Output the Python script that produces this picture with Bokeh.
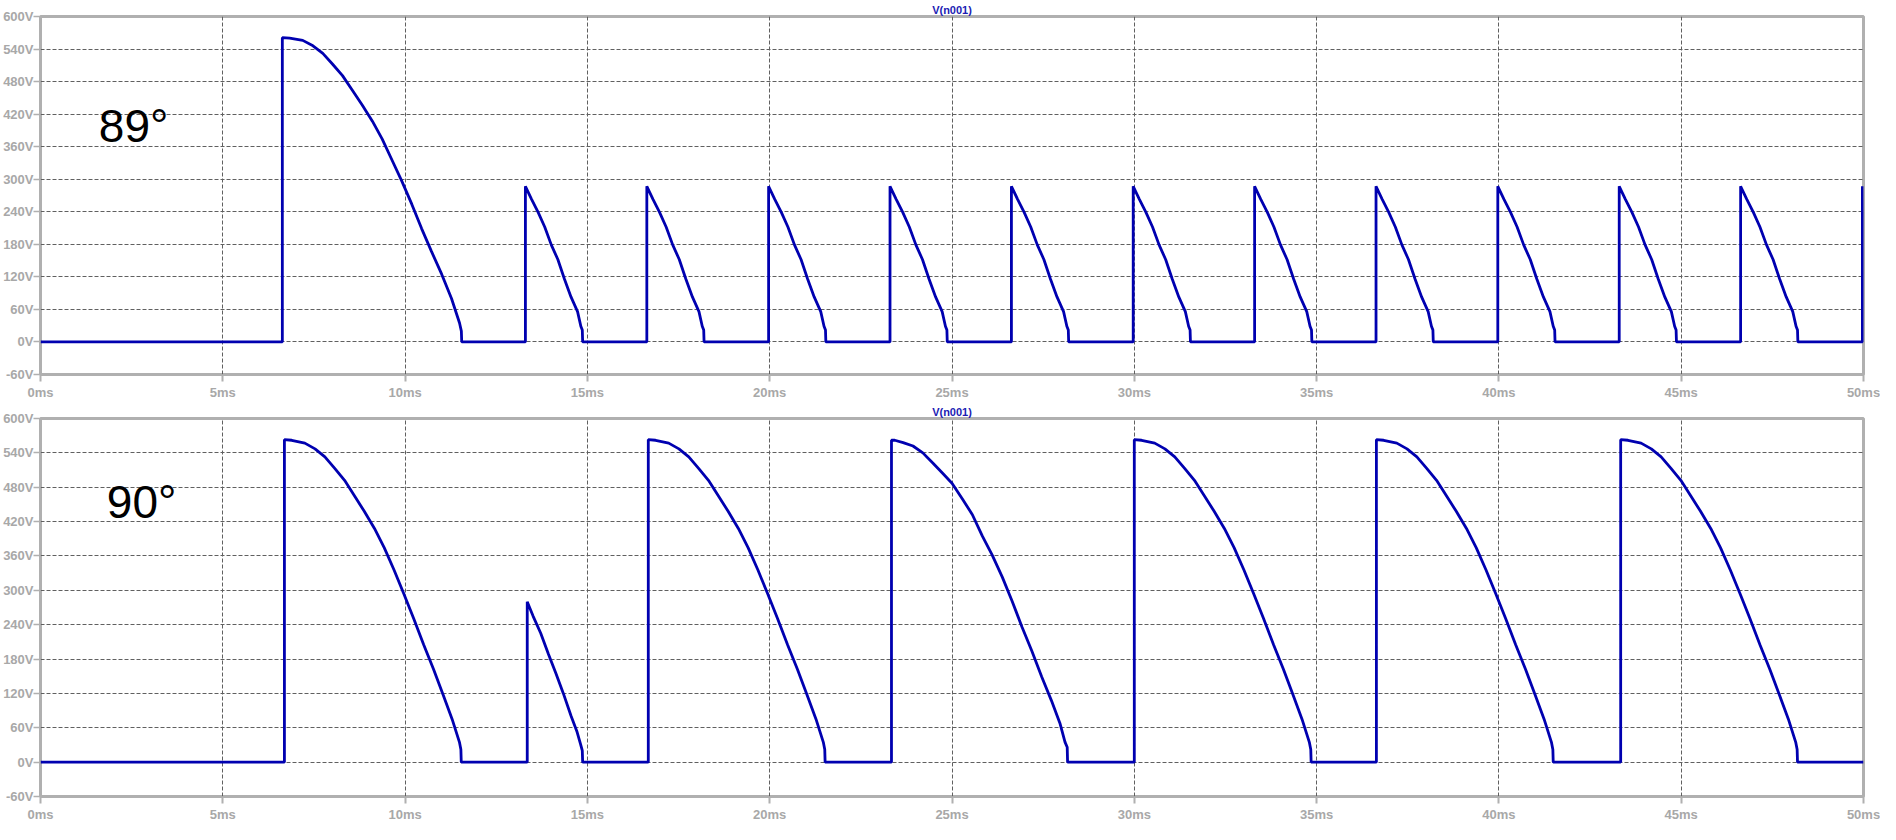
from bokeh.plotting import figure
from bokeh.models import Range1d, FixedTicker, PrintfTickFormatter, Label
from bokeh.layouts import column
from bokeh.embed import file_html
from bokeh.resources import INLINE

# ---------------- data ----------------
x_ticks = [0, 5, 10, 15, 20, 25, 30, 35, 40, 45, 50]          # ms
y_ticks = [-60, 0, 60, 120, 180, 240, 300, 360, 420, 480, 540, 600]  # V
t_end = 50.0

# top chart (89°): one big pulse, then small pulses
top_big_start = [6.633]
top_big_dt = [0, 0.2, 0.56, 0.84, 1.11, 1.38, 1.65, 1.92, 2.19, 2.47, 2.74,
              3.01, 3.28, 3.55, 3.82, 4.09, 4.37, 4.64, 4.86, 4.91]
top_big_v = [561, 560, 556, 546, 532, 512, 491, 464, 437, 407, 374,
             335, 296, 254, 209, 167, 125, 80, 35, 20]
top_small_start = [13.30, 16.63, 19.97, 23.30, 26.63, 29.97, 33.30,
                   36.63, 39.97, 43.30, 46.63, 49.97]
top_small_dt = [0, 0.17, 0.35, 0.53, 0.71, 0.89, 1.07, 1.25, 1.43, 1.52, 1.56]
top_small_v = [287, 263, 239, 212, 179, 152, 116, 83, 56, 29, 22]

# bottom chart (90°)
bot_big_start = [6.69, 16.67, 30.00, 36.64, 43.34]
bot_big_dt = [0, 0.2, 0.56, 0.84, 1.11, 1.38, 1.65, 1.92, 2.19, 2.47, 2.74,
              3.01, 3.28, 3.55, 3.82, 4.09, 4.35, 4.60, 4.80, 4.84]
bot_big_v = [563, 562, 557, 547, 533, 513, 492, 465, 438, 408, 374,
             335, 293, 250, 205, 162, 118, 75, 35, 22]
bot_kink_start = [23.34]
bot_kink_dt = [0, 0.09, 0.32, 0.59, 0.86, 1.14, 1.41, 1.66, 1.95, 2.22, 2.49,
               2.76, 3.04, 3.31, 3.58, 3.85, 4.12, 4.39, 4.62, 4.76, 4.82]
bot_kink_v = [562, 562, 558, 552, 540, 522, 504, 487, 459, 432, 395,
              362, 323, 281, 236, 194, 149, 107, 68, 35, 26]
bot_small_start = [13.35]
bot_small_dt = [0, 0.16, 0.37, 0.58, 0.78, 0.99, 1.20, 1.36, 1.46, 1.51]
bot_small_v = [280, 255, 225, 189, 156, 120, 81, 54, 32, 20]

drop_gap = 0.01

# ---------------- styling ----------------
LINE = "#0000b0"
FRAME = "#b0b0b0"
GRID = "#606060"
TICKLBL = "#a8a8a8"
TITLE = "#1c1cb4"
FONT = "Liberation Sans"


def build(pulses):
    """pulses: list of (starts, dt, v) groups -> time/voltage lists."""
    events = []
    for starts, dt, v in pulses:
        for s in starts:
            events.append((s, dt, v))
    events.sort(key=lambda e: e[0])
    ts, vs = [0.0], [0.0]
    for s, dt, v in events:
        ts.append(s); vs.append(0.0)
        for d, val in zip(dt, v):
            ts.append(s + d); vs.append(val)
        ts.append(s + dt[-1] + drop_gap); vs.append(0.0)
    ts.append(t_end); vs.append(0.0)
    out_t, out_v = [], []
    for t, val in zip(ts, vs):
        if t <= t_end:
            out_t.append(t); out_v.append(val)
    return out_t, out_v


def make_fig(height, border_top, border_bottom, t, v, tag, tag_x, tag_y):
    p = figure(width=1880, height=height, output_backend="svg",
               toolbar_location=None, tools="",
               x_range=Range1d(0, 50), y_range=Range1d(-60, 600),
               min_border_left=38, min_border_right=17,
               min_border_top=border_top, min_border_bottom=border_bottom,
               title="V(n001)")
    p.title.align = "center"
    p.title.text_font = FONT
    p.title.text_font_size = "11px"
    p.title.text_font_style = "bold"
    p.title.text_color = TITLE
    p.title.standoff = 2
    p.title.offset = 0

    p.background_fill_color = "white"
    p.border_fill_color = "white"
    p.outline_line_color = FRAME
    p.outline_line_width = 3

    for ax, ticks, fmt in ((p.xaxis[0], x_ticks, "%dms"), (p.yaxis[0], y_ticks, "%dV")):
        ax.ticker = FixedTicker(ticks=ticks)
        ax.formatter = PrintfTickFormatter(format=fmt)
        ax.axis_line_color = None
        ax.major_tick_in = 0
        ax.major_tick_out = 7
        ax.minor_tick_line_color = None
        ax.major_tick_line_color = FRAME
        ax.major_label_text_color = TICKLBL
        ax.major_label_text_font = FONT
        ax.major_label_text_font_size = "13px"
        ax.major_label_text_font_style = "bold"
    p.xaxis.major_tick_line_width = 2
    p.yaxis.major_tick_line_width = 1.5
    p.xaxis.major_label_standoff = 3
    p.yaxis.major_label_standoff = 0

    for g in (p.xgrid[0], p.ygrid[0]):
        g.grid_line_color = GRID
        g.grid_line_dash = "4 2"
        g.grid_line_width = 1
    p.xgrid.ticker = FixedTicker(ticks=x_ticks)
    p.ygrid.ticker = FixedTicker(ticks=y_ticks)

    p.line(t, v, line_color=LINE, line_width=2.8)

    p.add_layout(Label(x=tag_x, y=tag_y, text=tag, text_baseline="alphabetic",
                       text_font=FONT, text_font_size="46px", text_color="black"))
    return p


t1, v1 = build([(top_big_start, top_big_dt, top_big_v),
                (top_small_start, top_small_dt, top_small_v)])
t2, v2 = build([(bot_big_start, bot_big_dt, bot_big_v),
                (bot_kink_start, bot_kink_dt, bot_kink_v),
                (bot_small_start, bot_small_dt, bot_small_v)])

p1 = make_fig(402, 12, 26, t1, v1, "89°", 1.6, 399)
p2 = make_fig(422, 16, 0, t2, v2, "90°", 1.82, 454)

layout = column(p1, p2, spacing=0)
open("out.html", "w").write(file_html(layout, INLINE))
